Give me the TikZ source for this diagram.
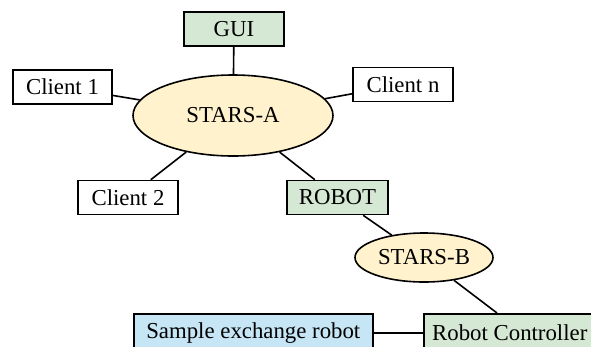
\documentclass[tikz,border=0pt]{standalone}
\usepackage{fontspec}
\setmainfont{Liberation Serif}
\usetikzlibrary{shapes.geometric}
\definecolor{boxgreen}{HTML}{D5E8D4}
\definecolor{ellyellow}{HTML}{FFF2CC}
\definecolor{boxblue}{HTML}{C6E5F5}
\begin{document}
\begin{tikzpicture}[x=1pt,y=-1pt,
  every node/.style={font=\fontsize{22.8}{26}\selectfont, inner sep=0pt},
  box/.style={draw=black, line width=1.6pt, rectangle, minimum height=34pt},
  elli/.style={draw=black, line width=1.6pt, ellipse, fill=ellyellow},
  link/.style={line width=1.6pt}]
\clip (0,0) rectangle (591,346);
\useasboundingbox (0,0) rectangle (591,346);
\node[box, fill=boxgreen, minimum width=100pt] (gui) at (234,29) {GUI};
\node[elli, minimum width=200pt, minimum height=81pt] (sa) at (233,115.5) {STARS-A};
\node[box, fill=white, minimum width=99pt] (c1) at (62.5,87) {Client 1};
\node[box, fill=white, minimum width=100pt] (cn) at (403,84.5) {Client n};
\node[box, fill=white, minimum width=100pt] (c2) at (128,197.5) {Client 2};
\node[box, fill=boxgreen, minimum width=101pt] (robot) at (337.5,197.5) {ROBOT};
\node[elli, minimum width=138pt, minimum height=49pt] (sb) at (424,257.5) {STARS-B};
\node[box, fill=boxgreen, minimum width=180pt, minimum height=38pt, anchor=north west] (rc) at (423,313) {\hspace*{-8pt}Robot Controller};
\node[box, fill=boxblue, minimum width=239pt, minimum height=38pt, anchor=north west] (ser) at (133,313) {Sample exchange robot};
\draw[link] (gui) -- (sa);
\draw[link] (c1) -- (sa);
\draw[link] (cn) -- (sa);
\draw[link] (c2) -- (sa);
\draw[link] (robot) -- (sa);
\draw[link] (robot) -- (sb);
\draw[link] (sb) -- (rc.north west -| 497,0);
\draw[link] (ser) -- (rc);
\end{tikzpicture}
\end{document}
